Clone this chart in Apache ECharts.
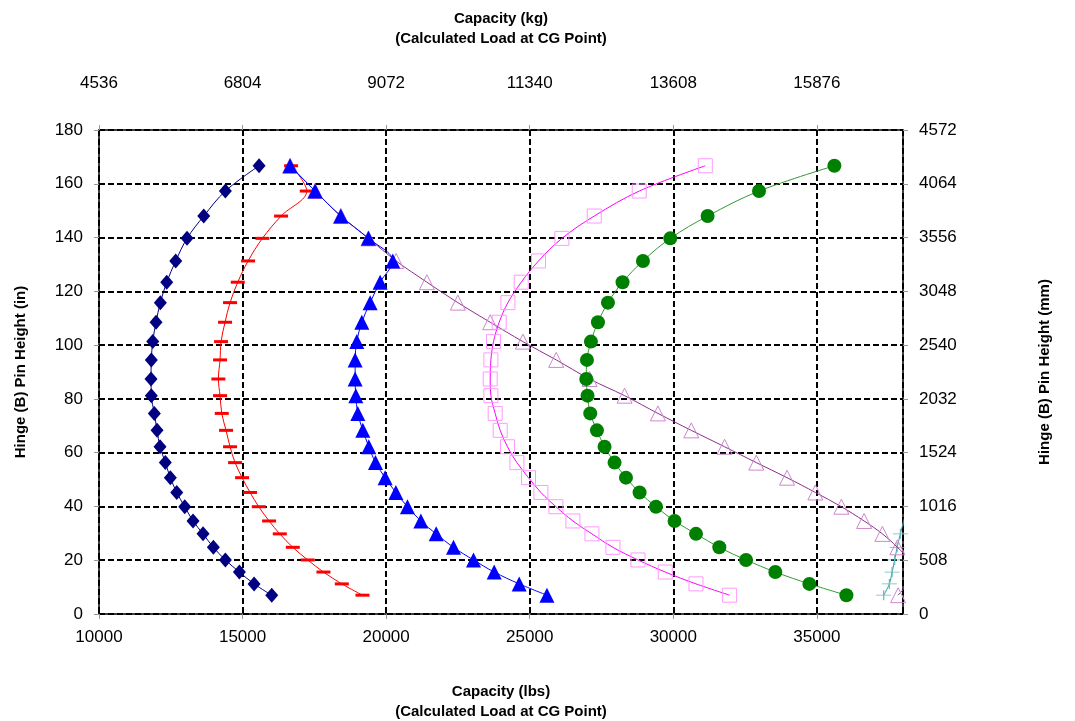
<!DOCTYPE html>
<html>
<head>
<meta charset="utf-8">
<script src="https://cdn.jsdelivr.net/npm/echarts@6/dist/echarts.min.js"></script>
<style>
  html, body { margin: 0; padding: 0; background: #fff; }
  #main { width: 1075px; height: 721px; }
</style>
</head>
<body>
<div id="main"></div>
<script>
// pin heights (in), shared by every curve, bottom to top
var heights = [7, 11.2, 15.6, 20.1, 24.8, 29.8, 34.6, 39.9, 45.2, 50.7, 56.3, 62.2, 68.3,
    74.6, 81.2, 87.4, 94.5, 101.3, 108.5, 115.8, 123.4, 131.3, 139.7, 148, 157.3, 166.7];

// capacity (lbs) for each curve, same order as heights
var navyCap = [16016, 15401, 14889, 14401, 13983, 13624, 13275, 12986, 12707, 12485, 12310, 12125, 12021,
    11927, 11822, 11812, 11822, 11871, 11986, 12136, 12359, 12672, 13066, 13648, 14401, 15575];
var redCap = [19176, 18456, 17817, 17271, 16749, 16296, 15923, 15564, 15261, 14983, 14739, 14564, 14425,
    14275, 14216, 14157, 14216, 14251, 14390, 14564, 14833, 15192, 15690, 16341, 17236, 16690];
var blueCap = [25600, 24634, 23763, 23042, 22345, 21742, 21209, 20742, 20338, 19965, 19630, 19397, 19188,
    19014, 18944, 18920, 18920, 18979, 19153, 19443, 19791, 20233, 19383, 18422, 17526, 16655];
var purpleCap = [37830, 38150, 38300, 38200, 37805, 37282, 36645, 35854, 34948, 33962, 32892, 31787, 30627,
    29466, 28303, 27084, 25923, 24763, 23624, 22498, 21418, 20348, 19384, 18422, 17526, 16655];
var pinkCap = [31962, 30791, 29721, 28770, 27899, 27167, 26505, 25913, 25390, 24958, 24554, 24226, 23972,
    23798, 23648, 23624, 23648, 23739, 23937, 24240, 24704, 25307, 26122, 27247, 28815, 31115];
var greenCap = [36028, 34739, 33554, 32533, 31603, 30791, 30045, 29397, 28826, 28352, 27955, 27606, 27341,
    27108, 27014, 26969, 26993, 27132, 27376, 27725, 28233, 28944, 29895, 31195, 32986, 35610];
var tealCap = [37328, 37526, 37620, 37711, 37794, 37909, 38024, 38150];

// secondary axis labels
var kgLabels = ['4536', '6804', '9072', '11340', '13608', '15876'];
var mmLabels = ['0', '508', '1016', '1524', '2032', '2540', '3048', '3556', '4064', '4572'];

function pairs(caps) {
    var out = [];
    for (var i = 0; i < caps.length; i++) {
        out.push([caps[i], heights[i]]);
    }
    return out;
}

var myChart = echarts.init(document.getElementById('main'));

var fontName = 'Liberation Sans, Arial, sans-serif';
var gridLine = { show: true, lineStyle: { color: '#000', type: [6, 3], width: 2 } };
var tick = { show: true, length: 5, lineStyle: { color: '#999' } };
var axisLine = { show: true, onZero: false, lineStyle: { color: '#000', width: 1.5 } };
var nameStyle = { fontFamily: fontName, fontWeight: 'bold', fontSize: 15, color: '#000', lineHeight: 20 };

function lineSeries(caps, lineColor, symbol, size, itemStyle, z) {
    return {
        type: 'line',
        data: pairs(caps),
        smooth: 0.35,
        clip: true,
        symbol: symbol,
        symbolSize: size,
        showAllSymbol: true,
        z: z,
        lineStyle: { color: lineColor, width: 1 },
        itemStyle: itemStyle,
        emphasis: { disabled: true }
    };
}

var option = {
    animation: false,
    backgroundColor: '#fff',
    textStyle: { fontFamily: fontName },
    grid: { left: 99, right: 172, top: 130, bottom: 107, outerBoundsMode: 'none', containLabel: false },
    xAxis: [
        {
            type: 'value',
            position: 'bottom',
            min: 10000,
            max: 38000,
            interval: 5000,
            name: 'Capacity (lbs)\n(Calculated Load at CG Point)',
            nameLocation: 'middle',
            nameGap: 68,
            nameTextStyle: nameStyle,
            axisLine: axisLine,
            axisTick: tick,
            splitLine: gridLine,
            axisLabel: {
                color: '#000', fontSize: 17, margin: 15, showMaxLabel: false,
                formatter: function (v) { return String(v); }
            }
        },
        {
            type: 'value',
            position: 'top',
            min: 10000,
            max: 38000,
            interval: 5000,
            name: 'Capacity (kg)\n(Calculated Load at CG Point)',
            nameLocation: 'middle',
            nameGap: 81,
            nameTextStyle: nameStyle,
            axisLine: axisLine,
            axisTick: tick,
            splitLine: { show: false },
            axisLabel: {
                color: '#000', fontSize: 17, margin: 38, showMaxLabel: false,
                formatter: function (v, i) { return kgLabels[i] || ''; }
            }
        }
    ],
    yAxis: [
        {
            type: 'value',
            position: 'left',
            min: 0,
            max: 180,
            interval: 20,
            name: 'Hinge (B) Pin Height (in)',
            nameLocation: 'middle',
            nameGap: 68,
            nameRotate: 90,
            nameTextStyle: nameStyle,
            axisLine: axisLine,
            axisTick: tick,
            splitLine: gridLine,
            axisLabel: { color: '#000', fontSize: 17, margin: 16 }
        },
        {
            type: 'value',
            position: 'right',
            min: 0,
            max: 180,
            interval: 20,
            name: 'Hinge (B) Pin Height (mm)',
            nameLocation: 'middle',
            nameGap: 132,
            nameRotate: 90,
            nameTextStyle: nameStyle,
            axisLine: axisLine,
            axisTick: tick,
            splitLine: { show: false },
            axisLabel: {
                color: '#000', fontSize: 17, margin: 16,
                formatter: function (v, i) { return mmLabels[i]; }
            }
        }
    ],
    series: [
        lineSeries(tealCap, '#339999', 'path://M0,5L10,5M5,0L5,10', [15, 10],
            { color: 'rgba(0,0,0,0)', borderColor: '#66bbbb', borderWidth: 1 }, 2),
        lineSeries(purpleCap, '#8b2f8b', 'triangle', 15,
            { color: 'rgba(255,255,255,0)', borderColor: '#cc88cc', borderWidth: 1 }, 3),
        lineSeries(pinkCap, '#ff00ff', 'rect', 14,
            { color: 'rgba(255,255,255,0)', borderColor: '#ff99ff', borderWidth: 1 }, 4),
        lineSeries(greenCap, '#339933', 'circle', 14, { color: '#008000' }, 5),
        lineSeries(redCap, '#ff0000', 'rect', [14, 3], { color: '#ff0000' }, 6),
        lineSeries(blueCap, '#0000ff', 'triangle', 15, { color: '#0000ff' }, 7),
        lineSeries(navyCap, '#000080', 'diamond', [13, 15], { color: '#000080' }, 8)
    ]
};

myChart.setOption(option);
</script>
</body>
</html>
